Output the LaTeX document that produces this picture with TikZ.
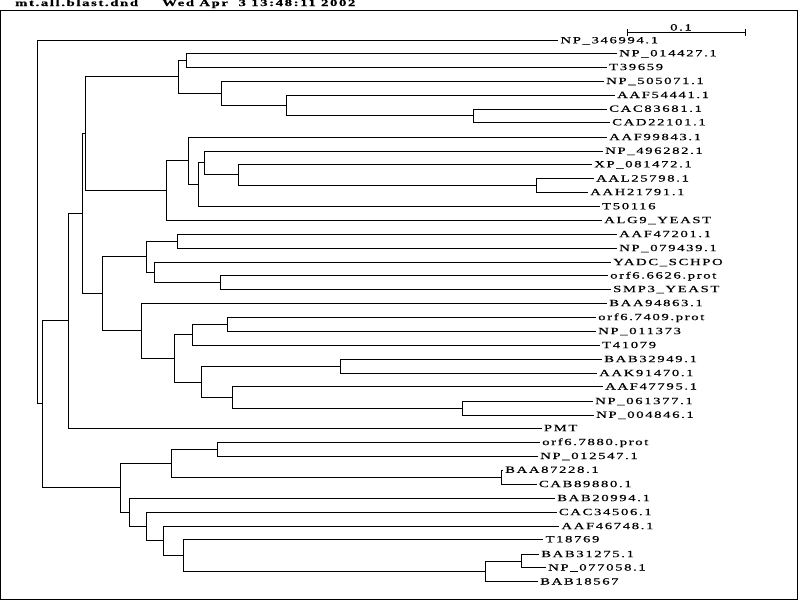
\documentclass[tikz,border=0pt]{standalone}
\usepackage{fontspec}
\setmainfont{Liberation Serif}
\newfontfamily\treefont[LetterSpace=11, FakeBold=0.4]{Liberation Serif}
\usepackage{tikz}
\newcommand{\widetext}[1]{\scalebox{1.55}[1]{#1}}
\tikzstyle{branch} = [line width=1pt, line join=miter]
\tikzstyle{leaf} = [anchor=base west, inner sep=2pt, yshift=-2.8pt, font=\treefont\fontsize{9.5}{11}\selectfont]
\tikzstyle{heading} = [anchor=base west, inner sep=0pt, font=\treefont\bfseries\fontsize{9.5}{11}\selectfont]
\tikzstyle{scalelabel} = [anchor=base, inner sep=0pt, font=\treefont\fontsize{9.5}{11}\selectfont]

\begin{document}
\begin{tikzpicture}[x=1pt, y=-1pt]
	\path[use as bounding box, fill=white] (0,0) rectangle (800,600);
	\draw[line width=1pt] (0.5,10.5) rectangle (797.5,599.2);
	\node[heading] (file) at (15,6) {\widetext{mt.all.blast.dnd}};
	\node[heading] (date) at (162,6) {\widetext{Wed Apr~~3 13:48:11 2002}};

	\coordinate (bar left) at (627.3,32.7);
	\coordinate (bar right) at (745.3,32.7);
	\draw[branch] (bar left) -- (bar right);
	\draw[branch] (627.3,29.3) -- (627.3,36);
	\draw[branch] (745.3,29.3) -- (745.3,36);
	\node[scalelabel] (scale) at (681,30.5) {\widetext{0.1}};

	\foreach \i/\x/\y/\txt in {1/558.3/40.5/NP\_346994.1, 2/617/53.5/NP\_014427.1, 3/607/67.3/T39659,
		4/604/81.2/NP\_505071.1, 5/615/95.2/AAF54441.1, 6/607/109/CAC83681.1, 7/610/122.5/CAD22101.1,
		8/607/137.3/AAF99843.1, 9/603/151/NP\_496282.1, 10/592/164.5/XP\_081472.1, 11/594/178.7/AAL25798.1,
		12/588/192.3/AAH21791.1, 13/600/206.5/T50116, 14/602/220.3/ALG9\_YEAST, 15/617/234.3/AAF47201.1,
		16/617/248.3/NP\_079439.1, 17/611/262.3/YADC\_SCHPO, 18/608/275.7/orf6.6626.prot, 19/611/289.3/SMP3\_YEAST,
		20/607/303.3/BAA94863.1, 21/596/317.3/orf6.7409.prot, 22/596/331.3/NP\_011373, 23/600/345.3/T41079,
		24/602/359.3/BAB32949.1, 25/597/373.3/AAK91470.1, 26/603/386.7/AAF47795.1, 27/593/401.3/NP\_061377.1,
		28/594/415/NP\_004846.1, 29/541.7/428.3/PMT, 30/540/442.3/orf6.7880.prot, 31/538/456.2/NP\_012547.1,
		32/503/470/BAA87228.1, 33/536.7/484.3/CAB89880.1, 34/555/498.3/BAB20994.1, 35/556.7/512.3/CAC34506.1,
		36/559.3/526.3/AAF46748.1, 37/543.3/539.5/T18769, 38/539/554.3/BAB31275.1, 39/546/567.7/NP\_077058.1,
		40/538/581.7/BAB18567}
	{
		\coordinate (t\i) at (\x,\y);
		\node[leaf] (n\i) at (t\i) {\widetext{\txt}};
	}

	\foreach \name/\x/\y in {root/37.3/222, A/42.3/403.7, B/68.3/320.8, C/120.5/487.5, D/82.3/213.7,
		E/85.7/133.5, F/102.3/293.5, G/178.7/76.7, H/166.3/190.3, I/186.3/60.4, J/221.3/93.2, K/286.3/105.2,
		L/473.3/115.7, M/188.3/160.8, N/198.7/184.3, O/204.3/162.8, P/238.7/174.5, Q/536.7/185.5,
		R/146.3/256.8, S/141.7/330.3, T/177.3/241.3, U/154.3/272.3, V/220.3/282.5, W/174.3/358.3,
		X/192.3/334.3, Y/201.3/382, Z/227.3/324.3, AA/340.3/366.3, AB/232.3/397.5, AC/462.7/408.2,
		AD/171.3/463.3, AE/129.7/512, AF/217.3/449.3, AG/501.7/477.2, AH/146.3/526, AI/163.3/540,
		AJ/183.3/555.3, AK/485.3/571.3, AL/521.7/561}
		\coordinate (\name) at (\x,\y);

	\foreach \p/\c in {root/t1, root/A, A/B, A/C, B/D, B/t29, D/E, D/F, E/G, E/H, G/I, G/J, I/t2, I/t3,
		J/t4, J/K, K/t5, K/L, L/t6, L/t7, H/M, H/t14, M/t8, M/N, N/O, N/t13, O/t9, O/P, P/t10, P/Q,
		Q/t11, Q/t12, F/R, F/S, R/T, R/U, T/t15, T/t16, U/t17, U/V, V/t18, V/t19, S/t20, S/W, W/X, W/Y,
		X/Z, X/t23, Z/t21, Z/t22, Y/AA, Y/AB, AA/t24, AA/t25, AB/t26, AB/AC, AC/t27, AC/t28, C/AD, C/AE,
		AD/AF, AD/AG, AF/t30, AF/t31, AG/t32, AG/t33, AE/t34, AE/AH, AH/t35, AH/AI, AI/t36, AI/AJ,
		AJ/t37, AJ/AK, AK/AL, AK/t40, AL/t38, AL/t39}
		\draw[branch] (\p) |- (\c);
\end{tikzpicture}
\end{document}
